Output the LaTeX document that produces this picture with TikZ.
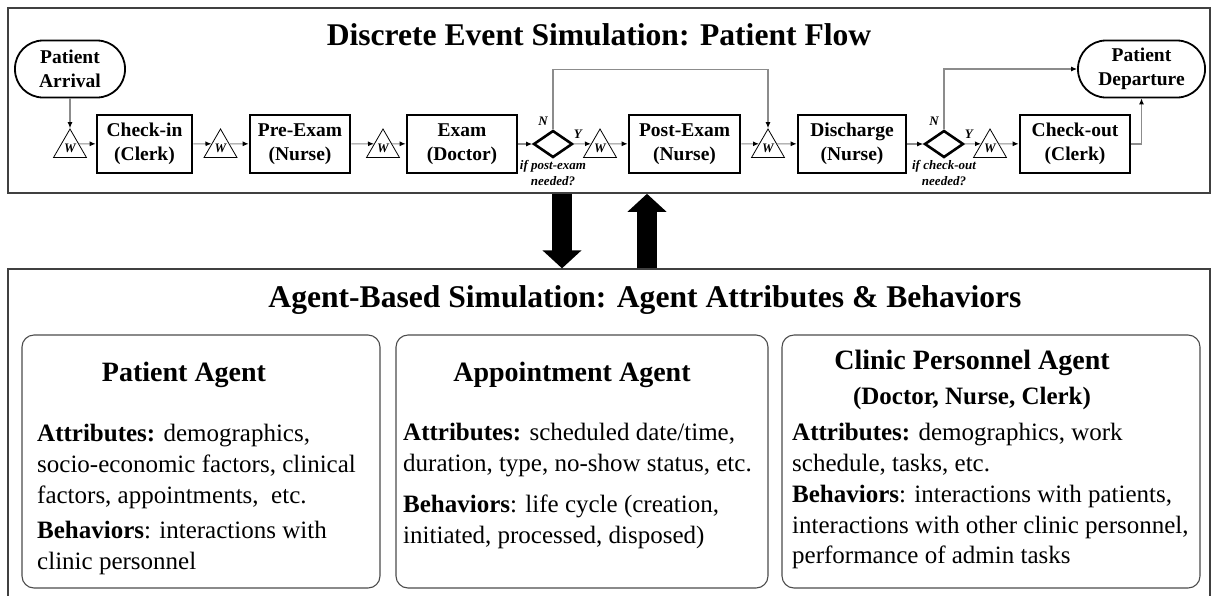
\documentclass[tikz,border=0pt]{standalone}
\usepackage{fontspec}
\setmainfont{Liberation Serif}
\usetikzlibrary{shapes.geometric,arrows.meta,calc,positioning}

\newcommand\titlefont{\fontsize{31.6}{36}\selectfont\bfseries}
\newcommand\flowfont{\fontsize{19.5}{23.5}\selectfont\bfseries}
\newcommand\agentfont{\fontsize{28}{32}\selectfont\bfseries}
\newcommand\rolefont{\fontsize{25}{28}\selectfont\bfseries}
\newcommand\bodyfont{\fontsize{25}{31}\selectfont}
\newcommand\tagfont{\fontsize{13}{16}\selectfont\bfseries\itshape}
\newcommand\waitfont{\fontsize{13}{13}\selectfont\bfseries\itshape}

\tikzset{
  frame/.style={draw=black!75, line width=1.6pt, inner sep=0pt},
  stepbox/.style={draw, line width=2.6pt, minimum height=58pt, inner sep=0pt, align=center, font=\flowfont},
  terminal/.style={draw, line width=1.8pt, rounded corners=28pt, minimum height=57pt, inner sep=0pt, align=center, font=\flowfont},
  waitq/.style={regular polygon, regular polygon sides=3, draw, line width=0.8pt, minimum size=38pt, inner sep=0pt, font=\waitfont},
  decide/.style={diamond, draw, line width=2.6pt, minimum width=39pt, minimum height=27pt, aspect=1.4, inner sep=0pt},
  yn/.style={font=\waitfont, inner sep=0pt},
  cond/.style={font=\tagfont, align=center, inner sep=1pt},
  flow/.style={draw=black!45, line width=1.1pt, -{Latex[length=6pt,width=5pt,color=black]}},
  bigarrow/.style={line width=20pt, -{Triangle[length=18pt,width=38pt]}},
  agentbox/.style={draw=black!70, line width=1.1pt, rounded corners=12pt, minimum height=253pt},
  agentname/.style={font=\agentfont, inner sep=0pt},
  agenttext/.style={font=\bodyfont, align=left, anchor=north west, inner sep=0pt},
}

\begin{document}
\begin{tikzpicture}[x=1pt, y=-1pt]
\useasboundingbox (0,0) rectangle (1214,595);

% Discrete event part
\node[frame, minimum width=1202pt, minimum height=185pt] (des) at (609,100.5) {};
\node[font=\titlefont] (destitle) at (599,35) {Discrete Event Simulation: Patient Flow};

\node[terminal, minimum width=110pt] (arrival) at (70,69) {Patient\\Arrival};
\node[terminal, minimum width=127pt] (departure) at (1141.5,69) {Patient\\Departure};

% queues sit a little lower than the flow line (y=144)
\node[waitq] (w1) at (70,148) {W};
\node[stepbox, minimum width=95pt] (checkin) at (144.5,144) {Check-in\\(Clerk)};
\node[waitq] (w2) at (220.5,148) {W};
\node[stepbox, minimum width=100pt] (preexam) at (300,144) {Pre-Exam\\(Nurse)};
\node[waitq] (w3) at (383,148) {W};
\node[stepbox, minimum width=110pt] (exam) at (462,144) {Exam\\(Doctor)};
\node[decide] (d1) at (553,144) {};
\node[waitq] (w4) at (600,148) {W};
\node[stepbox, minimum width=111pt] (postexam) at (684.5,144) {Post-Exam\\(Nurse)};
\node[waitq] (w5) at (768,148) {W};
\node[stepbox, minimum width=108pt] (discharge) at (852,144) {Discharge\\(Nurse)};
\node[decide] (d2) at (944,144) {};
\node[waitq] (w6) at (990,148) {W};
\node[stepbox, minimum width=110pt] (checkout) at (1075,144) {Check-out\\(Clerk)};

% decision labels
\node[yn] (n1) at ($(d1.north)+(-10,-8)$) {N};
\node[yn] (y1) at ($(d1.east)+(4,-10)$) {Y};
\node[cond, below=0pt of d1] (c1) {if post-exam\\needed?};
\node[yn] (n2) at ($(d2.north)+(-10,-8)$) {N};
\node[yn] (y2) at ($(d2.east)+(4,-10)$) {Y};
\node[cond, below=0pt of d2] (c2) {if check-out\\needed?};

% patient flow
\draw[flow] (arrival) -- (w1.corner 1);
\draw[flow] (w1.25) -- (checkin);
\draw[flow] (checkin) -- (w2.155);
\draw[flow] (w2.25) -- (preexam);
\draw[flow] (preexam) -- (w3.155);
\draw[flow] (w3.25) -- (exam);
\draw[flow] (exam) -- (d1);
\draw[flow] (d1) -- (w4.155);
\draw[flow] (w4.25) -- (postexam);
\draw[flow] (postexam) -- (w5.155);
\draw[flow] (w5.25) -- (discharge);
\draw[flow] (discharge) -- (d2);
\draw[flow] (d2) -- (w6.155);
\draw[flow] (w6.25) -- (checkout);
\draw[flow] (checkout) -| (departure);
\draw[flow] (d1.north) -- ++(0,-60) -| (w5.corner 1);
\draw[flow] (d2.north) |- (departure);

% Agent based part
\node[frame, line width=1.3pt, minimum width=1202pt, minimum height=331pt] (abm) at (609,434.5) {};
\node[font=\titlefont] (abmtitle) at (645,300) {Agent-Based Simulation: Agent Attributes \& Behaviors};

\coordinate (dnx) at (562,0);
\coordinate (upx) at (647,0);
\draw[bigarrow] (des.south -| dnx) -- (abm.north -| dnx);
\draw[bigarrow] (abm.north -| upx) -- (des.south -| upx);

\node[agentbox, minimum width=358pt] (patientbox) at (201,461.5) {};
\node[agentbox, minimum width=372pt] (apptbox) at (582,461.5) {};
\node[agentbox, minimum width=418pt] (staffbox) at (991,461.5) {};

\node[agentname] (patientname) at (184,375) {Patient Agent};
\node[agentname] (apptname) at (572,375) {Appointment Agent};
\node[agentname] (staffname) at (972,363) {Clinic Personnel Agent};
\node[font=\rolefont, inner sep=0pt] (staffroles) at (972,398) {(Doctor, Nurse, Clerk)};

\node[agenttext] (patienttext) at (37,424) {\textbf{Attributes:} demographics,\\
  socio-economic factors, clinical\\
  factors, appointments,\ \ etc.\\[4pt]
  \textbf{Behaviors}: interactions with\\
  clinic personnel};
\node[agenttext] (appttext) at (403,423) {\textbf{Attributes:} scheduled date/time,\\
  duration, type, no-show status, etc.\\[10pt]
  \textbf{Behaviors}: life cycle (creation,\\
  initiated, processed, disposed)};
\node[agenttext, font=\fontsize{25}{30.5}\selectfont] (stafftext) at (792,423) {\textbf{Attributes:} demographics, work\\
  schedule, tasks, etc.\\[1pt]
  \textbf{Behaviors}: interactions with patients,\\
  interactions with other clinic personnel,\\
  performance of admin tasks};
\end{tikzpicture}
\end{document}
